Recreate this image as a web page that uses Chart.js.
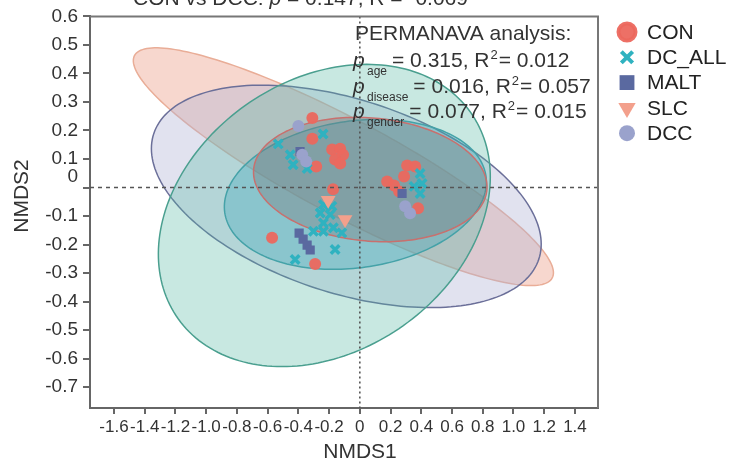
<!DOCTYPE html>
<html>
<head>
<meta charset="utf-8">
<script src="https://cdn.jsdelivr.net/npm/chart.js@4.4.1/dist/chart.umd.min.js"></script>
<style>
  html, body { margin: 0; padding: 0; background: #fff; }
  #wrap { width: 733px; height: 464px; position: relative; }
</style>
</head>
<body>
<div id="wrap"><canvas id="nmds"></canvas></div>
<script>
// NMDS scores, one pair of arrays per group
var conX = [-0.309, -0.309, -0.284, -0.180, -0.128, -0.109, -0.161, -0.128, -0.174, -0.571, -0.291,
            0.308, 0.360, 0.178, 0.223, 0.256, 0.379, 0.288];
var conY = [0.244, 0.171, 0.074, 0.133, 0.136, 0.115, 0.098, 0.084, -0.006, -0.176, -0.268,
            0.077, 0.074, 0.021, 0.007, -0.014, -0.073, 0.039];
var dcallX = [-0.531, -0.453, -0.434, -0.343, -0.239, -0.237, -0.182, -0.258, -0.193, -0.237, -0.302,
              -0.237, -0.172, -0.117, -0.161, -0.421, 0.392, 0.405, 0.392, 0.353];
var dcallY = [0.153, 0.115, 0.080, 0.067, 0.188, -0.060, -0.066, -0.089, -0.095, -0.124, -0.153,
              -0.153, -0.141, -0.159, -0.217, -0.252, 0.049, 0.014, -0.021, 0.004];
var maltX = [-0.395, -0.369, -0.343, -0.323, -0.389, 0.275];
var maltY = [-0.160, -0.181, -0.202, -0.219, 0.126, -0.021];
var slcX = [-0.206, -0.096];
var slcY = [-0.045, -0.112];
var dccX = [-0.400, -0.375, -0.349, 0.295, 0.327];
var dccY = [0.216, 0.115, 0.091, -0.066, -0.090];

var groups = ['CON', 'DC_ALL', 'MALT', 'SLC', 'DCC'];

// group ellipses: centre plus two conjugate semi-axes (NMDS units)
var ellipseCx = [-0.107, -0.088, -0.231, -0.029, 0.068];
var ellipseCy = [0.073, -0.031, -0.098, -0.024, 0.028];
var ellipseAx = [1.359, 1.253, 0.950, 0.850, 0.759];
var ellipseAy = [-0.390, -0.220, 0.363, 0.064, -0.036];
var ellipseBx = [-0.148, -0.197, 0.514, 0.067, -0.035];
var ellipseBy = [-0.147, -0.322, -0.386, -0.255, -0.215];

var xTicks = [-1.6, -1.4, -1.2, -1.0, -0.8, -0.6, -0.4, -0.2, 0, 0.2, 0.4, 0.6, 0.8, 1.0, 1.2, 1.4];
var yTicks = [-0.7, -0.6, -0.5, -0.4, -0.3, -0.2, -0.1, 0, 0.1, 0.2, 0.3, 0.4, 0.5, 0.6];
var xMin = -1.756, xMax = 1.55, yMin = -0.773, yMax = 0.6;

var titleText = 'CON vs DCC: p = 0.147, R = -0.069';
var permLines = [
  ['age', '0.315', '0.012'],
  ['disease', '0.016', '0.057'],
  ['gender', '0.077', '0.015']
];

var FONT = '"Liberation Sans", Arial, sans-serif';
var TXT = '#333';

var ellipseFill = ['rgba(232,145,118,0.36)', 'rgba(175,178,212,0.38)', 'rgba(85,185,162,0.32)',
                   'rgba(50,162,185,0.32)', 'rgba(118,118,122,0.36)'];
var ellipseLine = ['#e9ad97', '#6b6f99', '#4a9f8f', '#45a2a8', '#c8706e'];

function pts(xs, ys) {
  return xs.map(function (v, i) { return { x: v, y: ys[i] }; });
}

var styles = [
  { pointStyle: 'circle', backgroundColor: 'rgba(236,104,94,0.95)', borderColor: 'rgba(236,104,94,0.95)', radius: 6, borderWidth: 0, rotation: 0, order: 5 },
  { pointStyle: 'crossRot', backgroundColor: '#2fb2c0', borderColor: '#2fb2c0', radius: 6, borderWidth: 3.5, rotation: 0, order: 4 },
  { pointStyle: 'rect', backgroundColor: '#5a69a0', borderColor: '#5a69a0', radius: 6.5, borderWidth: 0, rotation: 0, order: 3 },
  { pointStyle: 'triangle', backgroundColor: '#f3a08c', borderColor: '#f3a08c', radius: 8.5, borderWidth: 0, rotation: 180, order: 2 },
  { pointStyle: 'circle', backgroundColor: '#9aa2cc', borderColor: '#9aa2cc', radius: 6, borderWidth: 0, rotation: 0, order: 1 }
];
var series = [pts(conX, conY), pts(dcallX, dcallY), pts(maltX, maltY), pts(slcX, slcY), pts(dccX, dccY)];

var datasets = groups.map(function (g, i) {
  var s = styles[i];
  return {
    label: g,
    data: series[i],
    pointStyle: s.pointStyle,
    pointRadius: s.radius,
    pointRotation: s.rotation,
    pointBackgroundColor: s.backgroundColor,
    pointBorderColor: s.borderColor,
    pointBorderWidth: s.borderWidth,
    order: s.order
  };
});

var decor = {
  id: 'decor',
  beforeDatasetsDraw: function (chart) {
    var ctx = chart.ctx, xs = chart.scales.x, ys = chart.scales.y;
    ctx.save();
    for (var i = 0; i < ellipseCx.length; i++) {
      ctx.beginPath();
      for (var k = 0; k <= 200; k++) {
        var t = k / 200 * Math.PI * 2;
        var dx = ellipseCx[i] + ellipseAx[i] * Math.cos(t) + ellipseBx[i] * Math.sin(t);
        var dy = ellipseCy[i] + ellipseAy[i] * Math.cos(t) + ellipseBy[i] * Math.sin(t);
        var px = xs.getPixelForValue(dx), py = ys.getPixelForValue(dy);
        if (k === 0) ctx.moveTo(px, py); else ctx.lineTo(px, py);
      }
      ctx.closePath();
      ctx.fillStyle = ellipseFill[i];
      ctx.fill();
      ctx.strokeStyle = ellipseLine[i];
      ctx.lineWidth = 1.5;
      ctx.stroke();
    }
    ctx.restore();
  },
  afterDatasetsDraw: function (chart) {
    var ctx = chart.ctx, a = chart.chartArea;
    var x0 = chart.scales.x.getPixelForValue(0), y0 = chart.scales.y.getPixelForValue(0);
    ctx.save();
    ctx.strokeStyle = '#555';
    ctx.lineWidth = 1.6;
    ctx.setLineDash([4, 4]);
    ctx.beginPath(); ctx.moveTo(a.left, y0); ctx.lineTo(a.right, y0); ctx.stroke();
    ctx.setLineDash([2, 3]);
    ctx.beginPath(); ctx.moveTo(x0, a.top); ctx.lineTo(x0, a.bottom); ctx.stroke();
    ctx.restore();
  },
  afterDraw: function (chart) {
    var ctx = chart.ctx, a = chart.chartArea;
    ctx.save();
    // frame top / right
    ctx.strokeStyle = '#777';
    ctx.lineWidth = 2;
    ctx.beginPath();
    ctx.moveTo(a.left, a.top); ctx.lineTo(a.right, a.top); ctx.lineTo(a.right, a.bottom);
    ctx.stroke();

    ctx.fillStyle = TXT;
    ctx.textBaseline = 'alphabetic';
    ctx.textAlign = 'left';

    // cut-off title
    var tx = 133, ty = 5;
    var parts = titleText.split('p');
    ctx.font = '21px ' + FONT;
    ctx.fillText(parts[0], tx, ty);
    tx += ctx.measureText(parts[0]).width;
    ctx.font = 'italic 21px ' + FONT;
    ctx.fillText('p', tx, ty);
    tx += ctx.measureText('p').width;
    ctx.font = '21px ' + FONT;
    ctx.fillText(parts[1], tx, ty);

    // zero label sits a bit above its tick in the original
    ctx.font = '19px ' + FONT;
    ctx.textAlign = 'right';
    ctx.fillText('0', 78, chart.scales.y.getPixelForValue(0) - 6);
    ctx.textAlign = 'left';

    // PERMANOVA block
    ctx.font = '21px ' + FONT;
    ctx.fillText('PERMANAVA analysis:', 355, 40);
    permLines.forEach(function (ln, i) {
      var by = 67 + i * 25.5;
      ctx.font = 'italic 21px ' + FONT;
      ctx.fillText('p', 353, by);
      ctx.font = '12px ' + FONT;
      ctx.fillText(ln[0], 367, by + 8);
      var x = 367 + ctx.measureText(ln[0]).width + 5;
      ctx.font = '21px ' + FONT;
      var s1 = '= ' + ln[1] + ', R';
      ctx.fillText(s1, x, by);
      x += ctx.measureText(s1).width;
      ctx.font = '13px ' + FONT;
      ctx.fillText('2', x + 1, by - 8);
      x += ctx.measureText('2').width + 2;
      ctx.font = '21px ' + FONT;
      ctx.fillText('= ' + ln[2], x, by);
    });

    // legend
    ctx.font = '21px ' + FONT;
    ctx.textBaseline = 'middle';
    var legendSize = [8.5, 8, 10.5, 10, 8];
    var legendWidth = [4, 4, 0, 0, 0];
    groups.forEach(function (g, i) {
      var ly = 32 + i * 25.3;
      var s = styles[i];
      ctx.fillStyle = s.backgroundColor;
      ctx.strokeStyle = s.borderColor;
      ctx.lineWidth = legendWidth[i];
      Chart.helpers.drawPoint(ctx, {
        pointStyle: s.pointStyle, radius: legendSize[i], rotation: s.rotation, borderWidth: legendWidth[i]
      }, 627, ly);
      ctx.fillStyle = '#222';
      ctx.fillText(g, 647, ly + 1);
    });

    // axis titles
    ctx.fillStyle = TXT;
    ctx.textAlign = 'center';
    ctx.font = '21px ' + FONT;
    ctx.fillText('NMDS1', 360, 452);
    ctx.translate(22, 196);
    ctx.rotate(-Math.PI / 2);
    ctx.fillText('NMDS2', 0, 0);
    ctx.restore();
  }
};

var ctx = document.getElementById('nmds');
var nmdsChart = new Chart(ctx, {
  type: 'scatter',
  data: { datasets: datasets },
  plugins: [decor],
  options: {
    responsive: true,
    maintainAspectRatio: false,
    animation: false,
    layout: { padding: { top: 14, right: 135, left: 0, bottom: 0 } },
    plugins: { legend: { display: false }, tooltip: { enabled: false } },
    scales: {
      x: {
        type: 'linear', min: xMin, max: xMax,
        afterBuildTicks: function (s) { s.ticks = xTicks.map(function (v) { return { value: v }; }); },
        afterFit: function (s) { s.height = 56; },
        ticks: {
          callback: function (v) { return v === 0 ? '0' : v.toFixed(1); },
          font: { size: 17, family: FONT }, color: TXT, padding: 3, autoSkip: false, maxRotation: 0
        },
        grid: { drawOnChartArea: false, tickLength: 6, lineWidth: 2, color: '#666' },
        border: { color: '#666', width: 2 }
      },
      y: {
        type: 'linear', min: yMin, max: yMax,
        afterBuildTicks: function (s) { s.ticks = yTicks.map(function (v) { return { value: v }; }); },
        afterFit: function (s) { s.width = 90; },
        ticks: {
          callback: function (v) { return v === 0 ? '' : v.toFixed(1); },
          font: { size: 19, family: FONT }, color: TXT, padding: 5, autoSkip: false
        },
        grid: { drawOnChartArea: false, tickLength: 7, lineWidth: 2, color: '#666' },
        border: { color: '#666', width: 2 }
      }
    }
  }
});
</script>
</body>
</html>
